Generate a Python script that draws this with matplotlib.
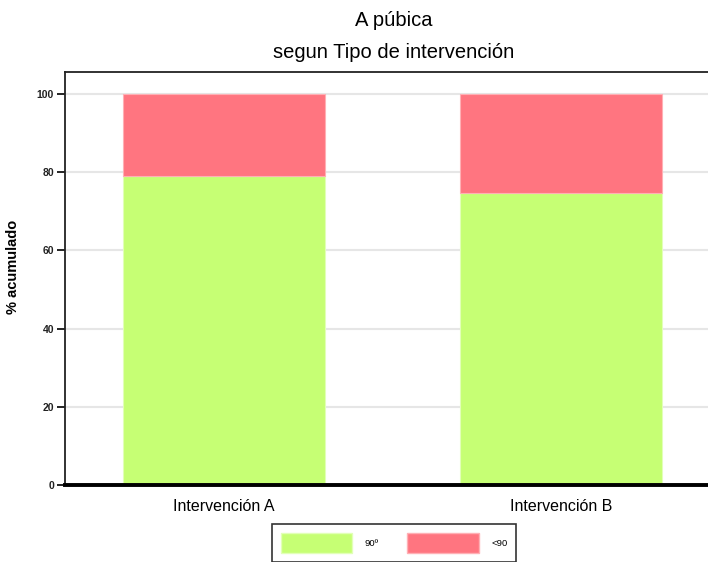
import matplotlib
matplotlib.use("Agg")
import matplotlib.pyplot as plt
from matplotlib.patches import Patch

plt.rcParams['font.family'] = ['Liberation Sans', 'DejaVu Sans']

categories = ["Intervención A", "Intervención B"]
series_names = ["90º", "<90"]
vals_90 = [79.0, 74.6]
vals_lt90 = [21.0, 25.4]
yticks = [0, 20, 40, 60, 80, 100]

green = "#C6FF74"
red = "#FF7580"

fig = plt.figure(figsize=(7.08, 5.62), dpi=100)
ax = fig.add_axes([65/708, 1-485/562, 655/708, (485-72)/562])

x = list(range(len(categories)))
ax.bar(x, vals_90, width=0.6, color=green, edgecolor="#E2FFB8", linewidth=0.8, zorder=2)
ax.bar(x, vals_lt90, width=0.6, bottom=vals_90, color=red, edgecolor="#FFB0B5", linewidth=0.8, zorder=2)

ax.set_xlim(-0.472, 1.472)
ax.set_ylim(0, 105.6)
ax.set_yticks(yticks)
ax.set_yticklabels([str(t) for t in yticks], fontsize=7.5, fontweight='bold', color='#222222')
ax.set_xticks(x)
ax.set_xticklabels(categories, fontsize=11.5)
ax.tick_params(axis='x', length=0, pad=10)
ax.tick_params(axis='y', length=6, width=1.2, pad=2)
ax.grid(axis='y', color='#E6E6E6', linewidth=1.5, zorder=0)
ax.set_axisbelow(True)

for s in ['left', 'top']:
    ax.spines[s].set_linewidth(1.3)
    ax.spines[s].set_color('#222222')
ax.spines['right'].set_visible(False)
ax.spines['bottom'].set_linewidth(2.8)
ax.spines['bottom'].set_color('black')

ylab = ax.set_ylabel("% acumulado", fontsize=10.5, fontweight='bold')
ax.yaxis.set_label_coords((20 - 65) / 655, (485 - 267) / 413)

fig.text(394/708, 1-20/562, "A púbica", ha='center', va='center', fontsize=14.5)
fig.text(394/708, 1-52/562, "segun Tipo de intervención", ha='center', va='center', fontsize=14.5)

handles = [Patch(facecolor=green, edgecolor="#E2FFB8"), Patch(facecolor=red, edgecolor="#FFB0B5")]
leg = fig.legend(handles, series_names, ncol=2, loc='upper left',
                 bbox_to_anchor=(272/708, 1-524/562), borderaxespad=0, fontsize=6.8,
                 handlelength=7.6, handleheight=3.0, handletextpad=1.3,
                 columnspacing=3.0, borderpad=0.9, frameon=True, fancybox=False)
leg.get_frame().set_edgecolor('black')
leg.get_frame().set_linewidth(1.2)

fig.savefig("out.png", dpi=100)
